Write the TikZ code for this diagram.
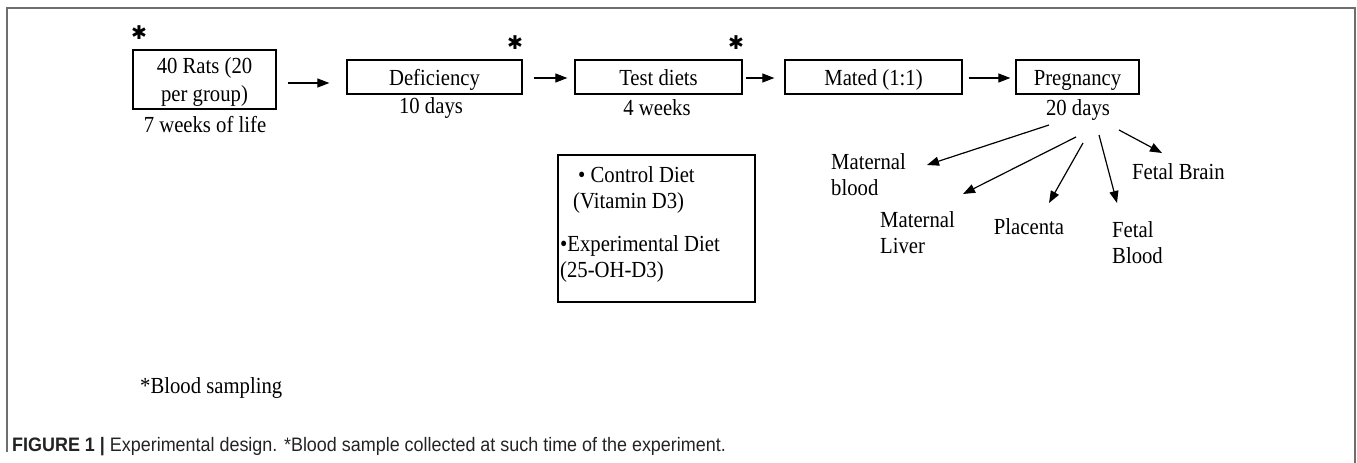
\documentclass[tikz,border=0pt]{standalone}
\usepackage{fontspec}
\setmainfont{Liberation Serif}[FakeStretch=0.9]
\newfontfamily\capfont{Liberation Sans}[FakeStretch=0.92]
\newfontfamily\starfont{DejaVu Sans}
\usetikzlibrary{arrows.meta}
\definecolor{framegray}{RGB}{110,110,110}
\definecolor{captxt}{RGB}{35,35,35}
\begin{document}
\begin{tikzpicture}[x=1pt,y=-1pt,
  box/.style={draw, line width=1.3pt, minimum height=34pt, inner sep=0pt, text height=16pt, text depth=0pt, font=\fontsize{23}{26}\selectfont},
  lbl/.style={inner sep=0pt, font=\fontsize{23}{26}\selectfont},
  star/.style={inner sep=0pt, font=\starfont\fontsize{19}{19}\selectfont},
  arr/.style={-{Triangle[length=12pt,width=9pt]}, line width=1.2pt}]
\useasboundingbox (0,0) rectangle (1357,463);
\draw[framegray, line width=2pt] (7,452) -- (7,8) -- (1355,8) -- (1355,463);

% main row
\node[draw, line width=1.3pt, minimum width=143pt, minimum height=59pt, inner sep=0pt] (rats) at (204.5,79.5) {};
\node[lbl, align=center, font=\fontsize{23}{28}\selectfont] (ratstxt) at ([yshift=-3pt]rats.center) {40 Rats (20\\per group)};
\node[box, minimum width=175pt] (def) at (434.5,77) {Deficiency};
\node[box, minimum width=167pt] (test) at (658.5,77) {Test diets};
\node[box, minimum width=177pt] (mated) at (873.5,77) {Mated (1:1)};
\node[box, minimum width=123pt] (preg) at (1077.5,77) {Pregnancy};

\draw[arr] ([xshift=11pt,yshift=-3.5pt]rats.east) -- ([xshift=-17pt,yshift=-6pt]def.west);
\draw[arr] ([xshift=11pt,yshift=-1pt]def.east) -- ([xshift=-7pt,yshift=-1pt]test.west);
\draw[arr] ([xshift=3pt,yshift=-1pt]test.east) -- ([xshift=-10pt,yshift=-1pt]mated.west);
\draw[arr] ([xshift=6pt,yshift=-1pt]mated.east) -- ([xshift=-5pt,yshift=-1pt]preg.west);

% stars
\node[star] (s1) at (139,33) {✱};
\node[star] (s2) at (515,43) {✱};
\node[star] (s3) at (736,43) {✱};

% labels under boxes
\node[lbl] (l1) at (205,125) {7 weeks of life};
\node[lbl] (l2) at (431,108) {10 days};
\node[lbl] (l3) at (657,108) {4 weeks};
\node[lbl] (l5) at (1078,110) {20 days};

% diet box
\node[draw, line width=1.3pt, minimum width=197pt, minimum height=147pt, inner sep=0pt] (diet) at (656.5,228.5) {};
\node[lbl, align=left, anchor=north west] (diettxt) at (560,166) {\hspace{18pt}• Control Diet\\\hspace{13pt}(Vitamin D3)\\[17pt]•Experimental Diet\\(25-OH-D3)};

% fan
\coordinate (a1) at (1049,125); \coordinate (a2) at (927,165);
\coordinate (b1) at (1076,137); \coordinate (b2) at (963,194);
\coordinate (c1) at (1083,143); \coordinate (c2) at (1049,203);
\coordinate (d1) at (1099,135); \coordinate (d2) at (1117,203);
\coordinate (e1) at (1119,130); \coordinate (e2) at (1162,153);
\draw[arr] (a1) -- (a2);
\draw[arr] (b1) -- (b2);
\draw[arr] (c1) -- (c2);
\draw[arr] (d1) -- (d2);
\draw[arr] (e1) -- (e2);

\node[lbl, align=left, anchor=west] (mb) at (831,174.5) {Maternal\\blood};
\node[lbl, align=left, anchor=west] (ml) at (880,233) {Maternal\\Liver};
\node[lbl] (pl) at (1029,227) {Placenta};
\node[lbl, align=left, anchor=west] (fb) at (1112,242.5) {Fetal\\Blood};
\node[lbl, anchor=west] (fbr) at (1132,172) {Fetal Brain};

\node[lbl, anchor=west] (bs) at (140,388) {*Blood sampling};
\node[inner sep=0pt, anchor=west, text=captxt, font=\capfont\fontsize{19.5}{19.5}\selectfont] (cap) at (12,447) {\textbf{FIGURE 1} \textbf{|} Experimental design. *Blood sample collected at such time of the experiment.};
\end{tikzpicture}
\end{document}
